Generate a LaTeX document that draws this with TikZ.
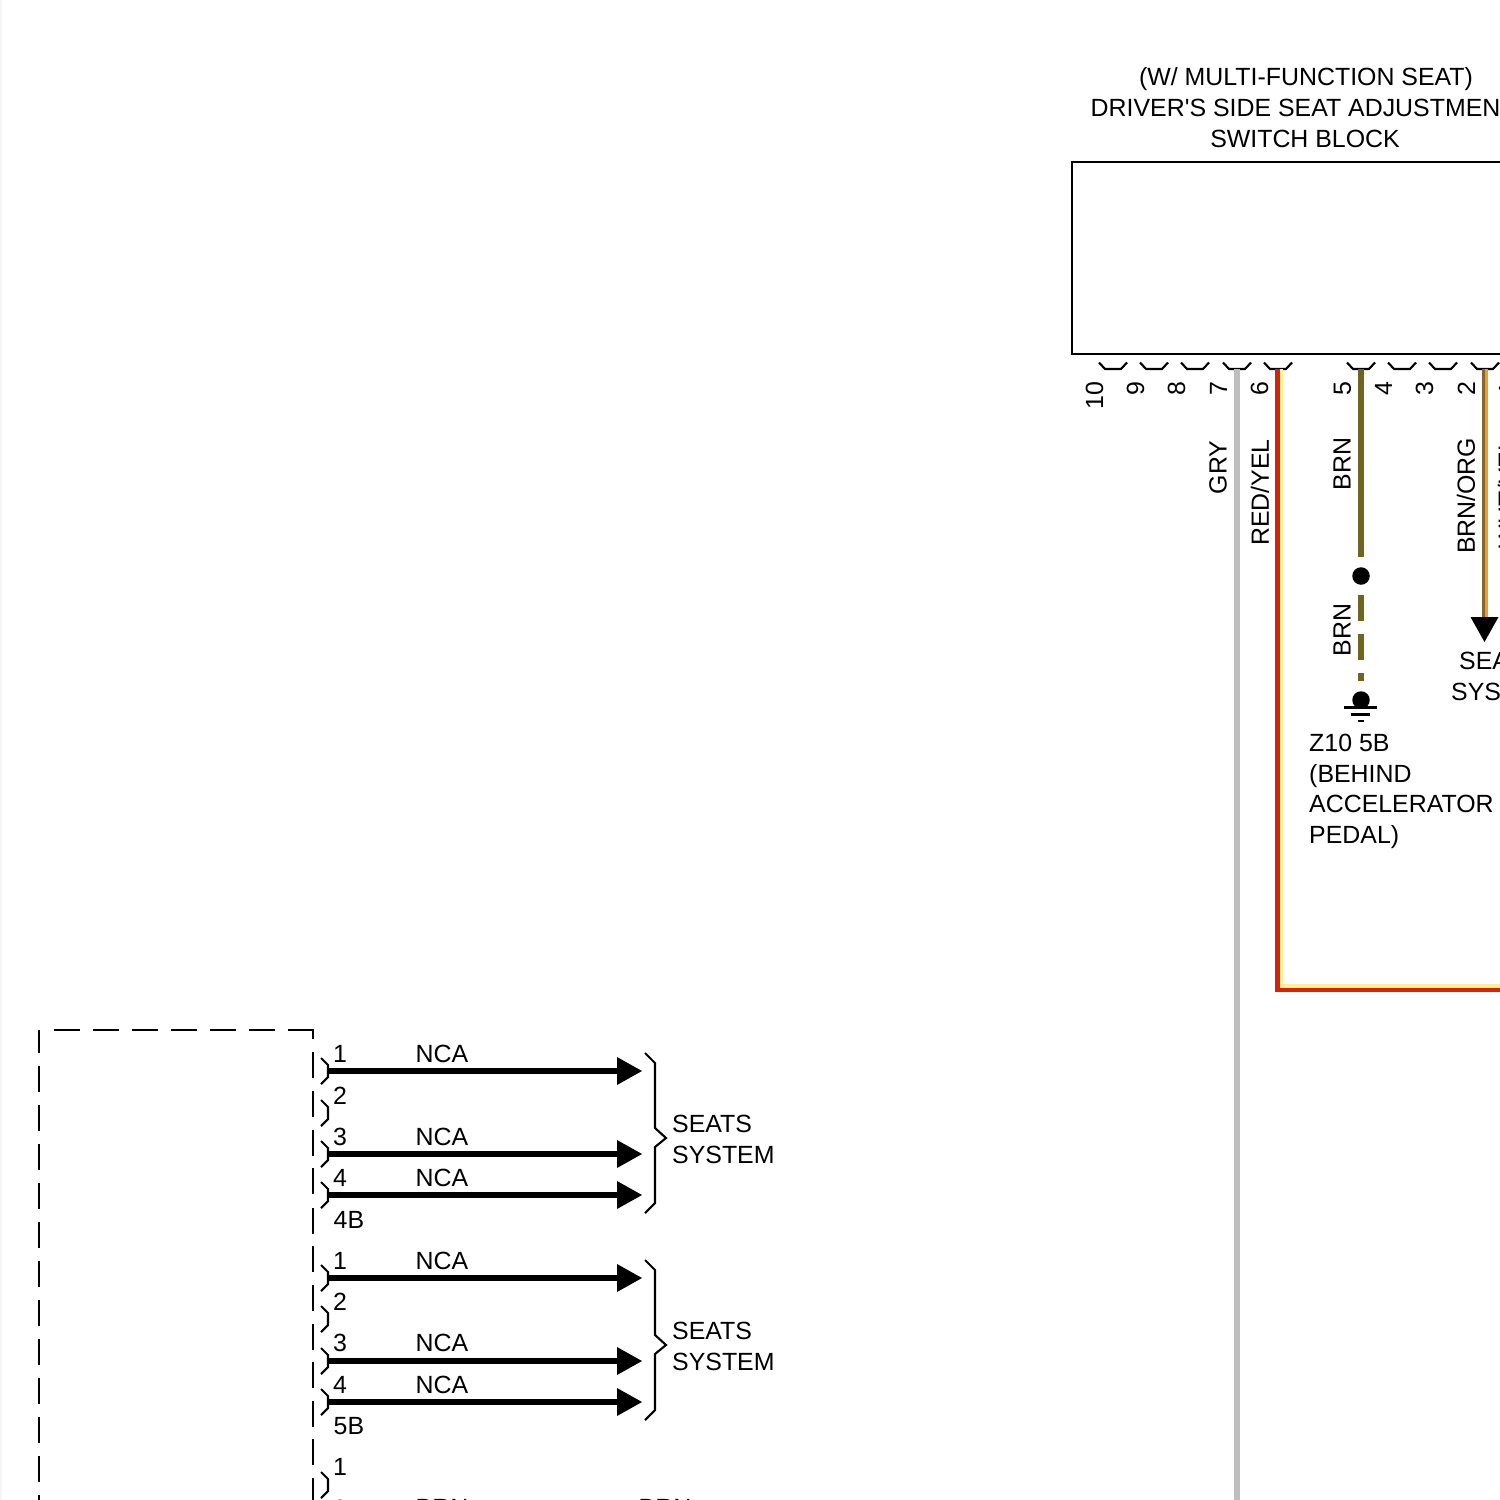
\documentclass[tikz,border=0pt]{standalone}
\usepackage{fontspec}
\setmainfont{Liberation Sans}
\definecolor{wiregry}{RGB}{190,190,190}
\definecolor{wirered}{RGB}{215,35,10}
\definecolor{wireyel}{RGB}{255,240,150}
\definecolor{wirebrn}{RGB}{112,100,30}
\definecolor{wiredrk}{RGB}{140,100,35}
\definecolor{wireorg}{RGB}{225,160,70}
\begin{document}
\begin{tikzpicture}[x=0.01cm,y=-0.01cm]
    \tikzstyle{every node}=[inner sep=0pt, font=\fontsize{7.08pt}{8.79pt}\selectfont, text=black]
    \tikzstyle{notes}=[align=left, anchor=west]
    \tikzstyle{pinnum}=[anchor=center]
    \tikzstyle{vpin}=[anchor=east, rotate=90]
    \tikzstyle{vlabel}=[anchor=east, rotate=90]
    \tikzstyle{boxline}=[black, line width=0.23mm]
    \tikzstyle{thinline}=[black, line width=0.21mm]
    \tikzstyle{dashline}=[black, line width=0.23mm]
    \tikzstyle{signal}=[black, line width=0.52mm]
    \tikzstyle{arrowtip}=[fill=black, draw=none]
    \tikzstyle{dot}=[circle, fill=black, minimum size=0.175cm]

    \useasboundingbox (0,0) rectangle (1500,1500);
    \fill[black!4] (0,0) rectangle (2,1500);

    % switch block
    \draw[boxline] (1600,162) -- (1072,162) -- (1072,354) -- (1600,354);
    \node (title1) at (1306,79) {(W/ MULTI-FUNCTION SEAT)};
    \node[anchor=west] (title2) at (1090,107.5) {DRIVER\textquotesingle S SIDE SEAT ADJUSTMENT};
    \node (title3) at (1305,138.5) {SWITCH BLOCK};

    % connector pins of the block
    \foreach \px/\num in {1113/10,1154/9,1195/8,1237/7,1278/6,1361/5,1402/4,1443/3,1485/2,1526/1} {
        \draw[thinline] (\px-14,362.5) -- (\px-8,369) -- (\px+8,369) -- (\px+14,362.5);
        \node[vpin] (pin\num) at (\px-18.5,381) {\num};
    }

    % wires
    \coordinate (gry1) at (1237,369);
    \coordinate (gry2) at (1237,1510);
    \coordinate (red1) at (1277.5,369);
    \coordinate (red2) at (1277.5,990);
    \coordinate (red3) at (1510,990);
    \coordinate (yel1) at (1281.5,369);
    \coordinate (yel2) at (1281.5,986);
    \coordinate (yel3) at (1510,986);
    \coordinate (brn1) at (1361,369);
    \coordinate (brn2) at (1361,557);
    \coordinate (drk1) at (1483.6,369);
    \coordinate (drk2) at (1483.6,620);
    \coordinate (org1) at (1486.6,369);
    \coordinate (org2) at (1486.6,620);
    \node[dot] (splice) at (1361,576) {};
    \node[dot] (gnd) at (1361,700) {};
    \draw[wiregry, line width=0.54mm] (gry1) -- (gry2);
    \draw[wireyel, line width=0.36mm] (yel1) -- (yel2) -- (yel3);
    \draw[wirered, line width=0.45mm] (red1) -- (red2) -- (red3);
    \draw[wirebrn, line width=0.54mm] (brn1) -- (brn2);
    \draw[wirebrn, line width=0.54mm] (1361,595) -- (1361,621) (1361,634) -- (1361,660) (1361,673) -- (1361,681);
    \draw[wireorg, line width=0.27mm] (org1) -- (org2);
    \draw[wiredrk, line width=0.33mm] (drk1) -- (drk2);
    \fill[arrowtip] (1470.5,617) -- (1498.5,617) -- (1484.5,642) -- cycle;

    % ground
    \draw[thinline] (1344,707.5) -- (1377,707.5);
    \draw[thinline] (1351,714.5) -- (1370,714.5);
    \draw[thinline] (1358,721) -- (1364,721);

    % wire labels
    \node[vlabel] (gry) at (1218,440) {GRY};
    \node[vlabel] (redyel) at (1260,438.5) {RED/YEL};
    \node[vlabel] (brn) at (1342,437) {BRN};
    \node[vlabel] (brnb) at (1342,603) {BRN};
    \node[vlabel] (brnorg) at (1466,437) {BRN/ORG};
    \node[vlabel] (whtyel) at (1507,437) {WHT/YEL};
    \node[anchor=west] (seatc) at (1458.5,660.5) {SEATS};
    \node[anchor=west] (sysc) at (1450.5,691.5) {SYSTEM};
    \node[notes, anchor=north west] (ground) at (1308.5,733) {Z10 5B\\(BEHIND\\ACCELERATOR\\PEDAL)};

    % dashed module outline
    \foreach \xa in {54,93,132,171,210,249,288} {
        \draw[dashline] (\xa,1030) -- (\xa+26,1030);
    }
    \draw[dashline] (288,1030) -- (313,1030);
    \draw[dashline] (39,1030) -- (39,1053);
    \foreach \ya in {1066,1105,1144,1183,1222,1261,1300,1339,1378,1417,1456} {
        \draw[dashline] (39,\ya) -- (39,\ya+26);
    }
    \draw[dashline] (39,1495) -- (39,1510);
    \draw[dashline] (313,1030) -- (313,1039);
    \foreach \ya in {1052,1091,1130,1168,1208,1246,1285,1324,1362,1401,1439,1478} {
        \draw[dashline] (313,\ya) -- (313,\ya+25.5);
    }

    % module pins
    \foreach \ya in {1071,1113,1154,1195,1278,1319,1361,1402,1485} {
        \draw[thinline] (321,\ya-13) -- (328,\ya-6) -- (328,\ya+6) -- (321,\ya+13);
    }
    \foreach \ya/\num in {1054/1,1096/2,1137/3,1178/4,1261/1,1302/2,1343/3,1385/4,1467/1,1509/2} {
        \node[pinnum] (num\ya) at (340,\ya) {\num};
    }
    \node[anchor=west] (conn4b) at (333,1220) {4B};
    \node[anchor=west] (conn5b) at (333,1426) {5B};

    % signal lines
    \foreach \ya in {1071,1154,1195,1278,1361,1402} {
        \coordinate (from\ya) at (328,\ya);
        \coordinate (to\ya) at (620,\ya);
        \draw[signal] (from\ya) -- (to\ya);
        \fill[arrowtip] (617,\ya-14) -- (642,\ya) -- (617,\ya+14) -- cycle;
    }
    \foreach \ya in {1054,1137,1178,1261,1343,1385} {
        \node[anchor=west] (nca\ya) at (415,\ya) {NCA};
    }

    % braces
    \foreach \ya in {1053,1260} {
        \draw[thinline] (645,\ya) -- (655,\ya+10) -- (655,\ya+75) -- (666,\ya+85) -- (655,\ya+94) -- (655,\ya+150) -- (645,\ya+160);
    }
    \node[notes] (seata) at (671.5,1124) {SEATS};
    \node[notes] (sysa) at (671.5,1155) {SYSTEM};
    \node[notes] (seatb) at (671.5,1331) {SEATS};
    \node[notes] (sysb) at (671.5,1362) {SYSTEM};

    % bottom row
    \node[anchor=west] (brnl) at (415,1508) {BRN};
    \node[anchor=west] (brnr) at (638,1508) {BRN};
\end{tikzpicture}
\end{document}
